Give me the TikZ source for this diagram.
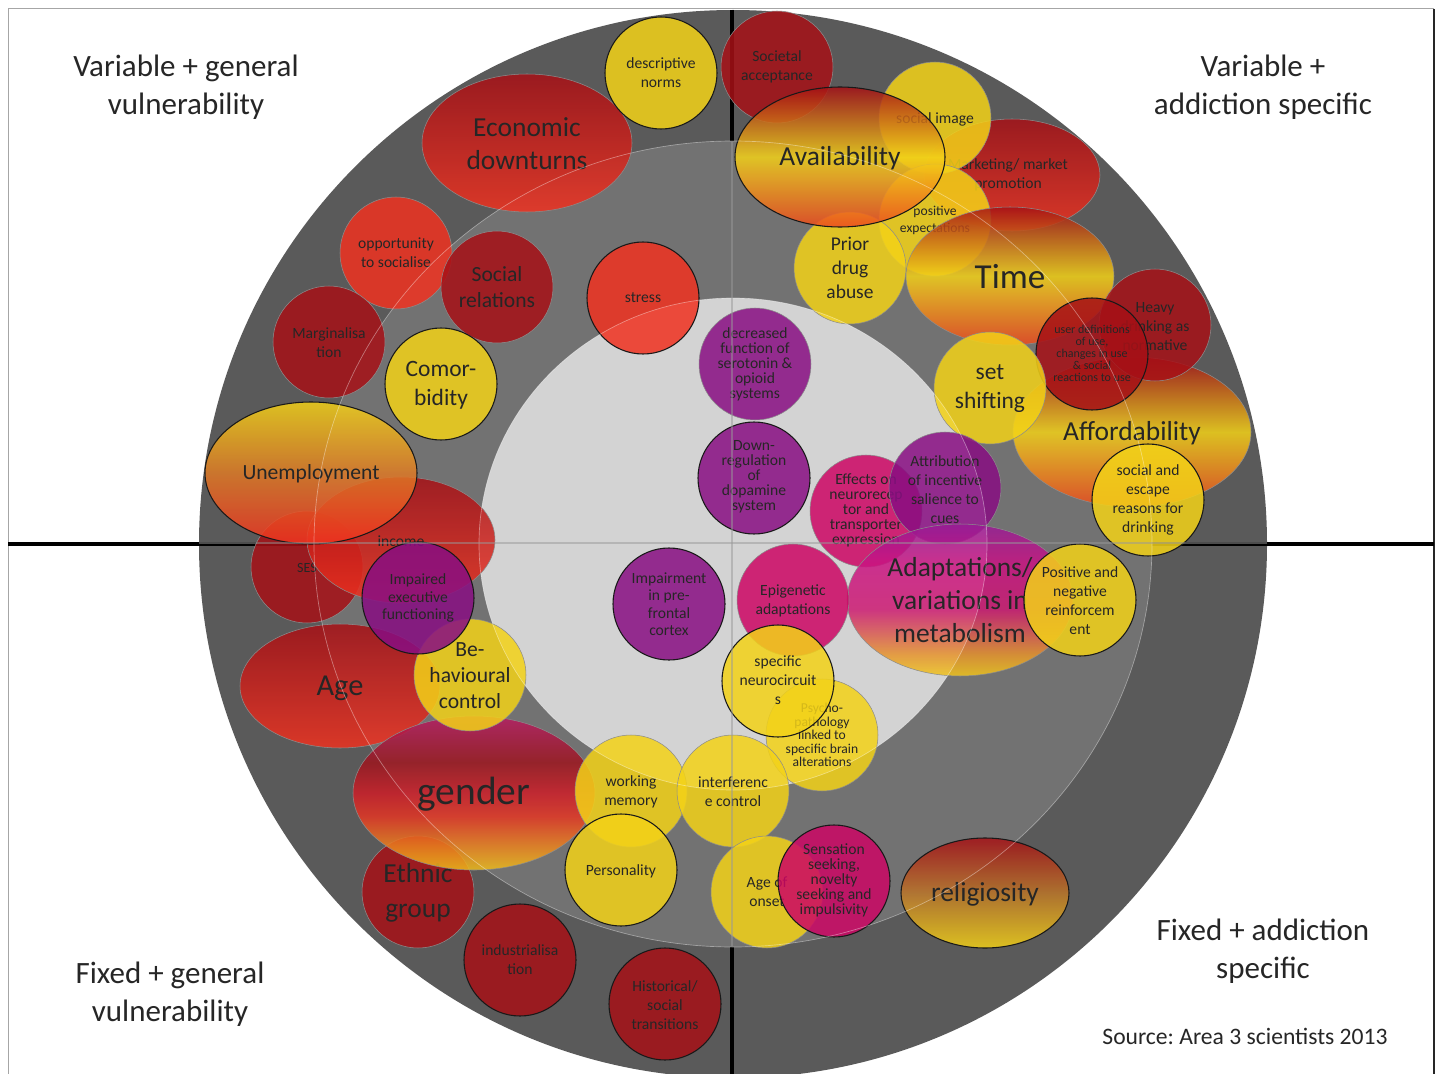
\documentclass[tikz,border=0pt]{standalone}
\usepackage{fontspec}
\setmainfont{Carlito}
\usepackage{tikz}
\tikzset{every picture/.style={line width=0.75pt}}
\frenchspacing

%ring colours
\definecolor{ringout}{RGB}{90,90,90}
\definecolor{ringmid}{RGB}{114,114,114}
\definecolor{ringin}{RGB}{211,211,211}
%bubble colours
\definecolor{dred}{RGB}{166,16,22}
\definecolor{bred}{RGB}{240,50,32}
\definecolor{ored}{RGB}{236,72,30}
\definecolor{yel}{RGB}{243,210,24}
\definecolor{oran}{RGB}{222,122,38}
\definecolor{brn}{RGB}{188,118,40}
\definecolor{purp}{RGB}{136,14,130}
\definecolor{magen}{RGB}{204,6,100}
\definecolor{bubline}{RGB}{140,140,140}
\definecolor{txt}{RGB}{38,38,38}
%gradient stops, gender and metabolism
\definecolor{gnA}{RGB}{184,26,98}
\definecolor{gnB}{RGB}{156,22,30}
\definecolor{gnC}{RGB}{206,30,40}
\definecolor{gnD}{RGB}{228,54,36}
\definecolor{gnE}{RGB}{236,132,30}
\definecolor{gnF}{RGB}{238,190,28}
\definecolor{mbA}{RGB}{152,28,150}
\definecolor{mbB}{RGB}{202,20,130}
\definecolor{mbC}{RGB}{204,26,114}
\definecolor{mbD}{RGB}{216,82,84}
\definecolor{mbE}{RGB}{230,148,44}
\definecolor{mbF}{RGB}{240,198,28}

\pgfdeclareverticalshading{gendershade}{100bp}{color(0bp)=(gnF); color(25bp)=(gnF); color(32.5bp)=(gnE); color(42.5bp)=(gnD); color(50bp)=(gnC); color(60bp)=(gnB); color(75bp)=(gnA); color(100bp)=(gnA)}
\pgfdeclareverticalshading{metabshade}{100bp}{color(0bp)=(mbF); color(25bp)=(mbF); color(32bp)=(mbE); color(40bp)=(mbD); color(47bp)=(mbC); color(62bp)=(mbB); color(75bp)=(mbA); color(100bp)=(mbA)}

\tikzset{
  bub/.style={draw=bubline, line width=0.4, fill opacity=0.85},
  bubk/.style={draw=black!90, line width=0.8, fill opacity=0.85},
  hotband/.style={top color=dred, bottom color=ored, middle color=yel},
  lbl/.style={align=center, inner sep=0pt, text=txt, font=\fontsize{11.7}{14.25}\selectfont},
  lbltight/.style={lbl, font=\fontsize{11.7}{11.25}\selectfont},
  lblpfc/.style={lbl, font=\fontsize{11.7}{13.1}\selectfont},
  lblsmall/.style={lbl, font=\fontsize{10.2}{10.1}\selectfont},
  lblexp/.style={lbl, font=\fontsize{10.2}{12.75}\selectfont},
  lbltiny/.style={lbl, font=\fontsize{9}{9}\selectfont},
  lblmid/.style={lbl, font=\fontsize{14.6}{18}\selectfont},
  lblbig/.style={lbl, font=\fontsize{16.2}{19.9}\selectfont},
  lblbigger/.style={lbl, font=\fontsize{17.6}{21.75}\selectfont},
  lblhuge/.style={lbl, font=\fontsize{20.6}{24.75}\selectfont},
  quadlbl/.style={align=center, inner sep=0pt, text=txt, font=\fontsize{23.25}{28.5}\selectfont},
}

\begin{document}
\begin{tikzpicture}[x=0.75pt,y=0.75pt,yscale=-1,xscale=1]
\useasboundingbox (0,0) rectangle (1440,1074);
\clip (0,0) rectangle (1440,1074);
\fill [white] (0,0) rectangle (1440,1074);

%Frame
\draw [color=black!35] (8,1074) -- (8,9) -- (1434,9) ;
\draw [color=black!85][line width=1.2] (1434,9) -- (1434,1074) ;

%Shape: Circle (outer ring)
\fill [ringout] (733,544) ellipse (534 and 534) ;
%Straight Lines (axes)
\draw [line width=3.4] (8,544) -- (1434,544) ;
\draw [line width=3.2] (732,10) -- (732,1074) ;
%Shape: Ellipse (middle ring)
\fill [ringmid] (733,544) ellipse (419 and 403) ;
%Shape: Ellipse (inner ring)
\fill [ringin] (733,544) ellipse (254 and 246) ;

%Shape: Ellipse
\draw [bub, top color=dred, bottom color=bred] (527,143) ellipse (105 and 69) ;
% Text Node
\draw (527,144) node [lblhuge] (econ) {Economic\\downturns} ;
%Shape: Circle
\draw [bubk, fill=yel] (661,73) circle (56) ;
% Text Node
\draw (661,73) node [lbl] (descnorms) {descriptive\\norms} ;
%Shape: Circle
\draw [bub, fill=dred] (777,67) circle (56) ;
% Text Node
\draw (777,67) node [lbl] (societal) {Societal\\acceptance} ;
%Shape: Circle
\draw [bub, fill=bred] (396,253) circle (56) ;
% Text Node
\draw (396,253) node [lbl] (opport) {opportunity\\to socialise} ;
%Shape: Circle
\draw [bub, fill=dred] (497,287) circle (56) ;
% Text Node
\draw (497,287) node [lblbig] (socrel) {Social\\relations} ;
%Shape: Circle
\draw [bub, fill=dred] (329,342) circle (56) ;
% Text Node
\draw (329,343) node [lbl] (margin) {Marginalisa\\tion} ;
%Shape: Circle
\draw [bubk, fill=yel] (441,384) circle (56) ;
% Text Node
\draw (441,385) node [lblbigger] (comorb) {Comor-\\bidity} ;
%Shape: Circle
\draw [bubk, fill=bred] (643,298) circle (56) ;
% Text Node
\draw (643,298) node [lbl] (stress) {stress} ;

%Shape: Ellipse
\draw [bub, top color=dred, bottom color=bred] (1012,175) ellipse (88 and 56) ;
% Text Node
\draw (1008,175) node [lbl] (market) {Marketing/ market\\promotion} ;
%Shape: Circle
\draw [bub, fill=yel] (935,118) circle (56) ;
% Text Node
\draw (935,119) node [lbl] (socimage) {social image} ;
%Shape: Circle
\draw [bub, fill=yel] (935,220) circle (56) ;
% Text Node
\draw (935,220) node [lblexp] (posexp) {positive\\expectations} ;
%Shape: Circle
\draw [bub, fill=yel] (850,268) circle (56) ;
% Text Node
\draw (850,268) node [lblmid] (prior) {Prior\\drug\\abuse} ;
%Shape: Ellipse
\draw [bubk, hotband] (840,157) ellipse (105 and 70) ;
% Text Node
\draw (840,158) node [lblhuge] (avail) {Availability} ;
%Shape: Ellipse
\draw [bub, hotband] (1010,276) ellipse (104 and 69) ;
% Text Node
\draw (1010,277) node [lbl, font=\fontsize{26.3}{30}\selectfont] (time) {Time} ;
%Shape: Ellipse
\draw [bub, hotband] (1132,432) ellipse (119 and 75) ;
% Text Node
\draw (1132,433) node [lblhuge] (afford) {Affordability} ;
%Shape: Circle
\draw [bub, fill=dred] (1155,325) circle (56) ;
% Text Node
\draw (1155,327) node [lbl] (heavy) {Heavy\\drinking as\\normative} ;
%Shape: Circle
\draw [bubk, fill=dred] (1092,354) circle (56) ;
% Text Node
\draw (1092,353) node [lbltiny] (userdef) {user definitions\\of use,\\changes in use\\\& social\\reactions to use} ;
%Shape: Circle
\draw [bub, fill=yel] (990,388) circle (56) ;
% Text Node
\draw (990,389) node [lblbigger] (setshift) {set\\shifting} ;
%Shape: Circle
\draw [bubk, fill=yel] (1148,500) circle (56) ;
% Text Node
\draw (1148,500) node [lbl] (socesc) {social and\\escape\\reasons for\\drinking} ;

%Shape: Circle
\draw [bub, fill=purp] (755,364) circle (56) ;
% Text Node
\draw (755,364) node [lbltight] (serot) {decreased\\function of\\serotonin \&\\opioid\\systems} ;
%Shape: Circle
\draw [bubk, fill=purp] (754,478) circle (56) ;
% Text Node
\draw (754,477) node [lbltight] (dopa) {Down-\\regulation\\of\\dopamine\\system} ;
%Shape: Circle
\draw [bub, fill=magen] (866,511) circle (56) ;
% Text Node
\draw (866,510) node [lbltight] (effects) {Effects on\\neurorecep\\tor and\\transporter\\expression} ;
%Shape: Circle
\draw [bub, fill=purp] (945,488) circle (56) ;
% Text Node
\draw (945,490) node [lbl] (attrib) {Attribution\\of incentive\\salience to\\cues} ;
%Shape: Ellipse
\draw [bub, shade, shading=metabshade] (960,600) ellipse (113 and 76) ;
% Text Node
\draw (960,600) node [lblhuge] (metab) {Adaptations/\\variations in\\metabolism} ;
%Shape: Circle
\draw [bubk, fill=yel] (1080,600) circle (56) ;
% Text Node
\draw (1080,601) node [lbl] (posneg) {Positive and\\negative\\reinforcem\\ent} ;
%Shape: Circle
\draw [bubk, fill=purp] (669,604) circle (56) ;
% Text Node
\draw (669,604) node [lblpfc] (pfc) {Impairment\\in pre-\\frontal\\cortex} ;
%Shape: Circle
\draw [bub, fill=magen] (793,600) circle (56) ;
% Text Node
\draw (793,601) node [lbl] (epigen) {Epigenetic\\adaptations} ;
%Shape: Circle
\draw [bub, fill=yel] (822,735) circle (56) ;
% Text Node
\draw (822,735) node [lblsmall] (psycho) {Psycho-\\pathology\\linked to\\specific brain\\alterations} ;
%Shape: Circle
\draw [bubk, fill=yel] (778,681) circle (56) ;
% Text Node
\draw (778,680) node [lbl] (neuro) {specific\\neurocircuit\\s} ;

%Shape: Circle
\draw [bub, fill=dred] (307,567) circle (56) ;
% Text Node
\draw (307,568) node [lbl, font=\fontsize{10.5}{12}\selectfont] (ses) {SES} ;
%Shape: Ellipse
\draw [bub, top color=dred, bottom color=bred] (401,540) ellipse (94 and 63) ;
% Text Node
\draw (401,541) node [lbl] (income) {income} ;
%Shape: Ellipse
\draw [bubk, top color=yel, bottom color=bred, middle color=oran] (311,473) ellipse (106 and 71) ;
% Text Node
\draw (311,474) node [lblbig] (unemp) {Unemployment} ;
%Shape: Ellipse
\draw [bub, top color=dred, bottom color=bred] (340,686) ellipse (100 and 62) ;
% Text Node
\draw (340,688) node [lbl, font=\fontsize{22.8}{26}\selectfont] (age) {Age} ;
%Shape: Circle
\draw [bub, fill=dred] (418,892) circle (56) ;
% Text Node
\draw (418,893) node [lbl, font=\fontsize{20.6}{26.2}\selectfont] (ethnic) {Ethnic\\group} ;
%Shape: Ellipse
\draw [bub, shade, shading=gendershade] (474,793) ellipse (121 and 77) ;
% Text Node
\draw (474,794) node [lbl, font=\fontsize{29.6}{33}\selectfont] (gender) {gender} ;
%Shape: Circle
\draw [bub, fill=yel] (470,675) circle (56) ;
% Text Node
\draw (470,676) node [lbl, font=\fontsize{16.2}{19.5}\selectfont] (behav) {Be-\\havioural\\control} ;
%Shape: Circle
\draw [bubk, fill=purp] (418,598) circle (56) ;
% Text Node
\draw (418,598) node [lblpfc] (impexec) {Impaired\\executive\\functioning} ;
%Shape: Circle
\draw [bubk, fill=dred] (520,960) circle (56) ;
% Text Node
\draw (520,960) node [lbl] (industr) {industrialisa\\tion} ;
%Shape: Circle
\draw [bubk, fill=dred] (665,1004) circle (56) ;
% Text Node
\draw (665,1005) node [lbl] (histor) {Historical/\\social\\transitions} ;
%Shape: Circle
\draw [bub, fill=yel] (631,791) circle (56) ;
% Text Node
\draw (631,792) node [lbl] (workmem) {working\\memory} ;
%Shape: Circle
\draw [bub, fill=yel] (733,791) circle (56) ;
% Text Node
\draw (733,792) node [lbl] (interf) {interferenc\\e control} ;
%Shape: Circle
\draw [bubk, fill=yel] (621,870) circle (56) ;
% Text Node
\draw (621,871) node [lbl] (personal) {Personality} ;
%Shape: Circle
\draw [bub, fill=yel] (767,892) circle (56) ;
% Text Node
\draw (767,892) node [lbl] (ageonset) {Age of\\onset} ;
%Shape: Circle
\draw [bubk, fill=magen] (834,881) circle (56) ;
% Text Node
\draw (834,880) node [lbltight] (sensation) {Sensation\\seeking,\\novelty\\seeking and\\impulsivity} ;
%Shape: Ellipse
\draw [bubk, top color=dred, bottom color=yel, middle color=brn] (985,893) ellipse (84 and 55) ;
% Text Node
\draw (985,894) node [lblhuge] (relig) {religiosity} ;

%Ring outlines and thin axes over the bubbles
\draw [color=white, draw opacity=0.4, line width=0.5] (733,544) ellipse (419 and 403) ;
\draw [color=white, draw opacity=0.4, line width=0.5] (733,544) ellipse (254 and 246) ;
\draw [color=black!40, draw opacity=0.5, line width=1.5] (199,543) -- (1267,543) ;
\draw [color=black!40, draw opacity=0.5, line width=1.5] (732,142) -- (732,946) ;

% Text Node
\draw (186,87) node [quadlbl] (vargen) {Variable + general\\vulnerability} ;
% Text Node
\draw (1263,87) node [quadlbl] (varadd) {Variable +\\addiction specific} ;
% Text Node
\draw (170,994) node [quadlbl] (fixgen) {Fixed + general\\vulnerability} ;
% Text Node
\draw (1263,951) node [quadlbl] (fixadd) {Fixed + addiction\\specific} ;
% Text Node
\draw (1245,1036) node [lbl, font=\fontsize{17.7}{21}\selectfont] (source) {Source: Area 3 scientists 2013} ;

\end{tikzpicture}
\end{document}
